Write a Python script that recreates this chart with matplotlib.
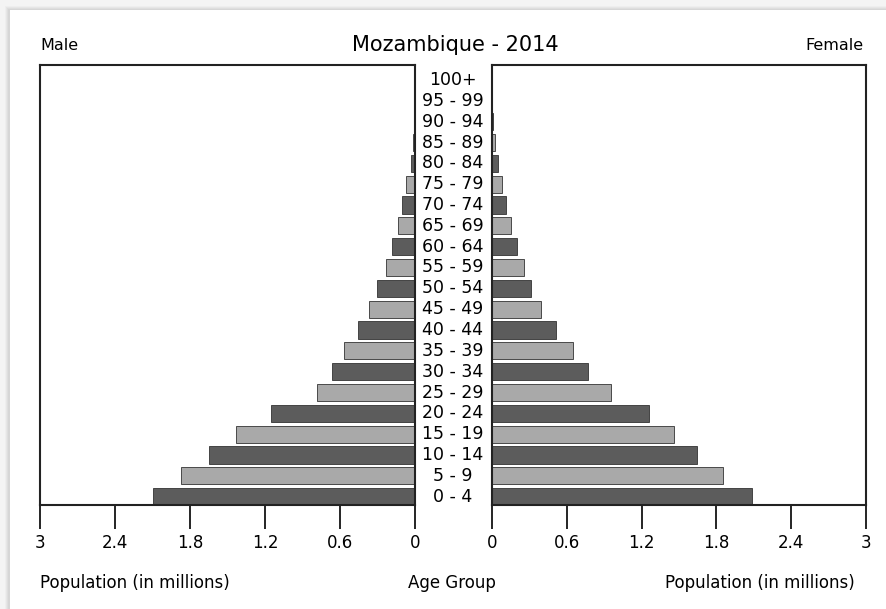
import matplotlib
matplotlib.use("Agg")
import matplotlib.pyplot as plt
from matplotlib.patches import Rectangle
import numpy as np

age_groups = ["0 - 4", "5 - 9", "10 - 14", "15 - 19", "20 - 24", "25 - 29", "30 - 34",
              "35 - 39", "40 - 44", "45 - 49", "50 - 54", "55 - 59", "60 - 64", "65 - 69",
              "70 - 74", "75 - 79", "80 - 84", "85 - 89", "90 - 94", "95 - 99", "100+"]
male = [2.10, 1.87, 1.65, 1.43, 1.15, 0.78, 0.66, 0.57, 0.456, 0.368, 0.30, 0.235,
        0.18, 0.136, 0.10, 0.072, 0.035, 0.012, 0.005, 0.002, 0.001]
female = [2.087, 1.854, 1.648, 1.46, 1.256, 0.951, 0.774, 0.651, 0.517, 0.394, 0.313,
          0.257, 0.20, 0.153, 0.112, 0.077, 0.045, 0.024, 0.008, 0.003, 0.001]
xticks = [0, 0.6, 1.2, 1.8, 2.4, 3]
xtick_labels = ["0", "0.6", "1.2", "1.8", "2.4", "3"]

dark = "#5c5c5c"
light = "#a9a9a9"
colors = [dark if i % 2 == 0 else light for i in range(len(age_groups))]

W, H = 887, 609
fig = plt.figure(figsize=(W / 100, H / 100), dpi=100)
fig.patch.set_facecolor("#f4f4f4")
# soft shadow around the white panel
for k, c in enumerate(["#eeeeee", "#e6e6e6", "#dedede", "#d6d6d6"]):
    off = 4 - k
    fig.patches.append(Rectangle(((9 - off) / W, 0), 1, (H - 10 + off) / H,
                                 transform=fig.transFigure, facecolor=c,
                                 edgecolor="none", zorder=-20 + k))
fig.patches.append(Rectangle((10 / W, 0), 1, (H - 10) / H, transform=fig.transFigure,
                             facecolor="white", edgecolor="none", zorder=-10))

bottom = (H - 505) / H
height = 440 / H
axl = fig.add_axes([40 / W, bottom, 375 / W, height])
axr = fig.add_axes([492 / W, bottom, 374 / W, height])

y = np.arange(len(age_groups))
axl.barh(y, male, height=0.82, color=colors, edgecolor="#333333", linewidth=0.6)
axr.barh(y, female, height=0.82, color=colors, edgecolor="#333333", linewidth=0.6)

for ax in (axl, axr):
    ax.set_ylim(-0.4, 20.72)
    ax.set_xlim(0, 3)
    ax.set_yticks([])
    ax.set_xticks(xticks)
    ax.set_xticklabels(xtick_labels, fontsize=12)
    ax.tick_params(axis="x", direction="out", length=17, width=1.2, pad=4)
    for s in ax.spines.values():
        s.set_linewidth(1.5)
        s.set_color("#222222")
axl.invert_xaxis()

tr = axl.get_yaxis_transform()
cx = (453 - 40) / 375
for i, lab in enumerate(age_groups):
    axl.text(cx, y[i], lab, transform=tr, ha="center", va="center", fontsize=12.5,
             clip_on=False)

fig.text(455 / W, 1 - 45 / H, "Mozambique - 2014", ha="center", va="center", fontsize=15)
fig.text(40 / W, 1 - 46 / H, "Male", ha="left", va="center", fontsize=11.5)
fig.text(864 / W, 1 - 46 / H, "Female", ha="right", va="center", fontsize=11.5)
fig.text(40 / W, 1 - 583 / H, "Population (in millions)", ha="left", va="center", fontsize=12)
fig.text(452 / W, 1 - 583 / H, "Age Group", ha="center", va="center", fontsize=12)
fig.text(855 / W, 1 - 583 / H, "Population (in millions)", ha="right", va="center", fontsize=12)

fig.savefig("out.png", dpi=100, facecolor=fig.get_facecolor())
